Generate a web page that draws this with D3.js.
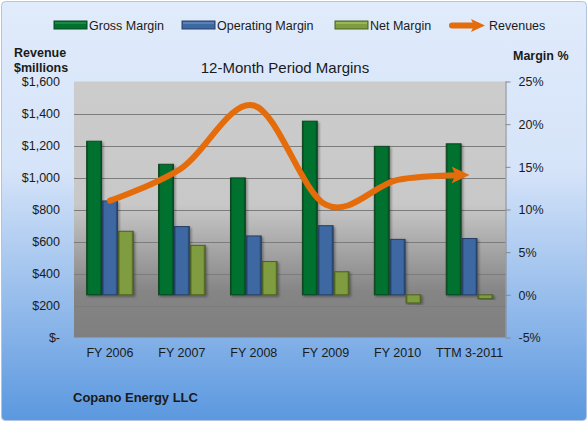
<!DOCTYPE html>
<html>
<head>
<meta charset="utf-8">
<script src="https://cdn.jsdelivr.net/npm/d3@7"></script>
<style>
  html, body { margin: 0; padding: 0; background: #fff; }
  text { font-family: "Liberation Sans", Arial, sans-serif; fill: #1a1a1a; }
</style>
</head>
<body>
<svg id="chart" width="588" height="422"></svg>
<script>
"use strict";

var categories = ["FY 2006", "FY 2007", "FY 2008", "FY 2009", "FY 2010", "TTM 3-2011"];
var grossMargin = [18.0, 15.3, 13.7, 20.35, 17.4, 17.7];
var operatingMargin = [11.0, 8.0, 6.9, 8.1, 6.5, 6.6];
var netMargin = [7.45, 5.8, 3.9, 2.7, -0.95, -0.45];
var revenues = [855, 1060, 1450, 830, 985, 1015];
var revenueTicks = [0, 200, 400, 600, 800, 1000, 1200, 1400, 1600];
var marginTicks = [-5, 0, 5, 10, 15, 20, 25];
var seriesNames = ["Gross Margin", "Operating Margin", "Net Margin"];

var svg = d3.select("#chart");
var defs = svg.append("defs");

var plot = { left: 74, right: 505.5, top: 81.5, bottom: 337.5 };

// backgrounds
var bgGrad = defs.append("linearGradient").attr("id", "bgGrad")
    .attr("x1", 0).attr("y1", 0).attr("x2", 0).attr("y2", 1);
bgGrad.append("stop").attr("offset", "0%").attr("stop-color", "#e0ebfb");
bgGrad.append("stop").attr("offset", "40%").attr("stop-color", "#d6e4f9");
bgGrad.append("stop").attr("offset", "100%").attr("stop-color", "#5b98df");

var plotGrad = defs.append("linearGradient").attr("id", "plotGrad")
    .attr("x1", 0).attr("y1", 0).attr("x2", 0).attr("y2", 1);
plotGrad.append("stop").attr("offset", "0%").attr("stop-color", "#cccccc");
plotGrad.append("stop").attr("offset", "48%").attr("stop-color", "#c8c8c8");
plotGrad.append("stop").attr("offset", "82%").attr("stop-color", "#858585");
plotGrad.append("stop").attr("offset", "100%").attr("stop-color", "#7f7f7f");

var colors = [
    { main: "#00712f", edge: "#0a4620", light: "#1b8a46" },
    { main: "#3d68a1", edge: "#253f66", light: "#5a82b8" },
    { main: "#7f9d3f", edge: "#4c5f22", light: "#9ab85a" }
];
colors.forEach(function(c, i) {
    var g = defs.append("linearGradient").attr("id", "barGrad" + i)
        .attr("x1", 0).attr("y1", 0).attr("x2", 1).attr("y2", 0);
    g.append("stop").attr("offset", "0%").attr("stop-color", c.edge);
    g.append("stop").attr("offset", "14%").attr("stop-color", c.main);
    g.append("stop").attr("offset", "86%").attr("stop-color", c.main);
    g.append("stop").attr("offset", "100%").attr("stop-color", c.edge);
});

var shadow = defs.append("filter").attr("id", "shadow")
    .attr("x", "-30%").attr("y", "-10%").attr("width", "160%").attr("height", "130%");
shadow.append("feDropShadow").attr("dx", 1.5).attr("dy", 1.5)
    .attr("stdDeviation", 1).attr("flood-color", "#000").attr("flood-opacity", 0.35);

svg.append("rect").attr("x", 0).attr("y", 0).attr("width", 588).attr("height", 422)
    .attr("fill", "#ffffff");
svg.append("rect").attr("x", 1.5).attr("y", 1.5).attr("width", 585).attr("height", 419)
    .attr("rx", 4).attr("fill", "url(#bgGrad)").attr("stroke", "#b4c4dc");

svg.append("rect").attr("x", plot.left).attr("y", plot.top)
    .attr("width", plot.right - plot.left).attr("height", plot.bottom - plot.top)
    .attr("fill", "url(#plotGrad)");

// scales
var x0 = d3.scaleBand().domain(categories).range([plot.left, plot.right])
    .paddingInner(0.338).paddingOuter(0.169);
var x1 = d3.scaleBand().domain(seriesNames).range([0, x0.bandwidth()]);
var yLeft = d3.scaleLinear().domain([0, 1600]).range([plot.bottom, plot.top]);
var yRight = d3.scaleLinear().domain([-5, 25]).range([plot.bottom, plot.top]);

// gridlines
svg.append("g").selectAll("line").data(revenueTicks.slice(1, -1)).join("line")
    .attr("x1", plot.left).attr("x2", plot.right)
    .attr("y1", function(d) { return Math.round(yLeft(d)) + 0.5; })
    .attr("y2", function(d) { return Math.round(yLeft(d)) + 0.5; })
    .attr("stroke", "#7c7c7c").attr("stroke-width", 1);

// axes
var leftAxis = svg.append("g").attr("transform", "translate(" + plot.left + ",0)")
    .call(d3.axisLeft(yLeft).tickValues(revenueTicks).tickSize(0).tickPadding(14)
        .tickFormat(function(d) { return d === 0 ? "$-" : "$" + d3.format(",")(d); }));
var rightAxis = svg.append("g").attr("transform", "translate(" + plot.right + ",0)")
    .call(d3.axisRight(yRight).tickValues(marginTicks).tickSize(5).tickPadding(8)
        .tickFormat(function(d) { return d + "%"; }));
var bottomAxis = svg.append("g").attr("transform", "translate(0," + (plot.bottom + 0.5) + ")")
    .call(d3.axisBottom(x0).tickSize(0).tickPadding(10));
[leftAxis, rightAxis, bottomAxis].forEach(function(a) {
    a.select(".domain").remove();
    a.selectAll("text").style("font-size", "12.5px")
        .style("font-family", "'Liberation Sans', Arial, sans-serif").attr("fill", "#1a1a1a");
    a.selectAll("line").attr("stroke", "#888");
});
rightAxis.selectAll("text").attr("dy", "0.34em");
svg.append("line").attr("x1", plot.right + 0.5).attr("x2", plot.right + 0.5)
    .attr("y1", plot.top).attr("y2", plot.bottom).attr("stroke", "#888");

// bars
var seriesData = [grossMargin, operatingMargin, netMargin];
var groups = svg.append("g").selectAll("g").data(categories).join("g")
    .attr("transform", function(d) { return "translate(" + x0(d) + ",0)"; });
groups.selectAll("rect").data(function(d, i) {
        return seriesData.map(function(s, k) { return { key: seriesNames[k], k: k, value: s[i] }; });
    }).join("rect")
    .attr("x", function(d) { return x1(d.key) + 0.5; })
    .attr("width", x1.bandwidth() - 1)
    .attr("y", function(d) { return yRight(Math.max(0, d.value)); })
    .attr("height", function(d) { return Math.abs(yRight(d.value) - yRight(0)); })
    .attr("fill", function(d) { return "url(#barGrad" + d.k + ")"; })
    .attr("stroke", function(d) { return colors[d.k].edge; })
    .attr("stroke-width", 1)
    .attr("filter", "url(#shadow)");

// revenue line with arrow
defs.append("marker").attr("id", "arrowBig")
    .attr("markerUnits", "userSpaceOnUse").attr("orient", "auto")
    .attr("viewBox", "0 -9 18 18").attr("refX", 18).attr("refY", 0)
    .attr("markerWidth", 18).attr("markerHeight", 18)
    .append("path").attr("d", "M0,-8.5L18,0L0,8.5L4,0Z").attr("fill", "#e46c0a");

var line = d3.line()
    .curve(d3.curveCatmullRom.alpha(0))
    .x(function(d, i) { return x0(categories[i]) + x0.bandwidth() / 2; })
    .y(function(d) { return yLeft(d); });
var revPath = svg.append("path").datum(revenues)
    .attr("d", line)
    .attr("fill", "none").attr("stroke", "#e46c0a").attr("stroke-width", 6)
    .attr("stroke-linecap", "round")
    .attr("marker-end", "url(#arrowBig)");
var len = revPath.node().getTotalLength();
revPath.attr("stroke-dasharray", (len - 10) + " " + (len + 20));

// titles
svg.append("text").attr("x", 285).attr("y", 73).attr("text-anchor", "middle")
    .style("font-size", "15px").text("12-Month Period Margins");
svg.append("text").attr("x", 14).attr("y", 57).style("font-size", "12.5px")
    .style("font-weight", "bold").text("Revenue");
svg.append("text").attr("x", 14).attr("y", 72).style("font-size", "12.5px")
    .style("font-weight", "bold").text("$millions");
svg.append("text").attr("x", 513).attr("y", 60).style("font-size", "12.5px")
    .style("font-weight", "bold").text("Margin %");
svg.append("text").attr("x", 73).attr("y", 402).style("font-size", "13px")
    .style("font-weight", "bold").text("Copano Energy LLC");

// legend
var legendItems = [
    { name: "Gross Margin", x: 54, k: 0 },
    { name: "Operating Margin", x: 182, k: 1 },
    { name: "Net Margin", x: 335, k: 2 }
];
var legend = svg.append("g");
legendItems.forEach(function(item) {
    legend.append("rect").attr("x", item.x).attr("y", 21).attr("width", 33).attr("height", 8)
        .attr("fill", colors[item.k].main).attr("stroke", colors[item.k].edge);
    legend.append("rect").attr("x", item.x + 1).attr("y", 22).attr("width", 31).attr("height", 2)
        .attr("fill", colors[item.k].light);
    legend.append("text").attr("x", item.x + 35).attr("y", 29.5)
        .style("font-size", "12.5px").text(item.name);
});
defs.append("marker").attr("id", "arrowSmall")
    .attr("markerUnits", "userSpaceOnUse").attr("orient", "auto")
    .attr("viewBox", "0 -7 14 14").attr("refX", 14).attr("refY", 0)
    .attr("markerWidth", 14).attr("markerHeight", 14)
    .append("path").attr("d", "M0,-6.5L14,0L0,6.5L3,0Z").attr("fill", "#e46c0a");
legend.append("path").attr("d", "M452,25.5L477,25.5")
    .attr("stroke", "#e46c0a").attr("stroke-width", 6).attr("stroke-linecap", "round")
    .attr("fill", "none");
legend.append("path").attr("d", "M475,25.5L485,25.5")
    .attr("stroke", "none").attr("fill", "none").attr("marker-end", "url(#arrowSmall)");
legend.append("text").attr("x", 489).attr("y", 29.5).style("font-size", "12.5px").text("Revenues");
</script>
</body>
</html>
